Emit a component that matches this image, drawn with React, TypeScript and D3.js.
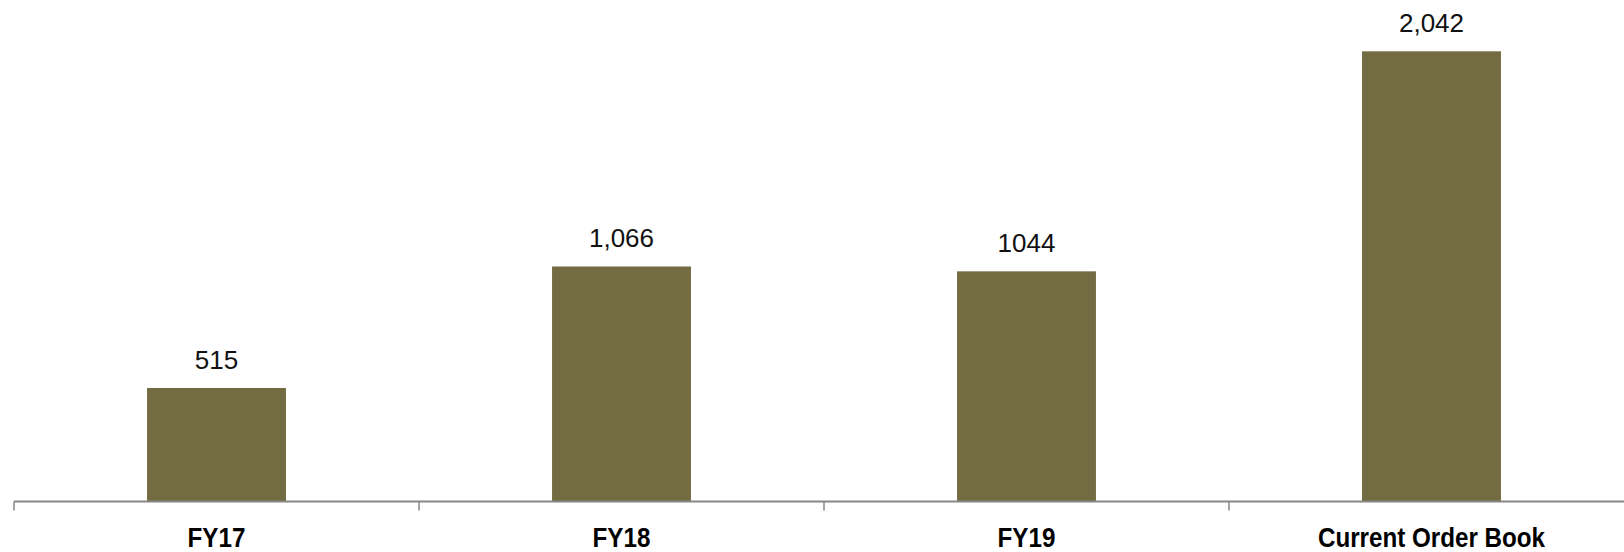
import React from "react";
import * as d3 from "d3";

const categories: string[] = ["FY17", "FY18", "FY19", "Current Order Book"];
const values: number[] = [515, 1066, 1044, 2042];
const valueLabels: string[] = ["515", "1,066", "1044", "2,042"];

const W = 1624;
const H = 552;

export default function App() {
  const x = d3.scaleBand<string>().domain(categories).range([14, 1634]).padding(0);
  const y = d3.scaleLinear().domain([0, 2200]).range([501.5, 16.5]);
  const barFrac = 0.343;
  const bw = x.bandwidth() * barFrac;
  const tickPositions = categories.map((c) => x(c) as number);

  return (
    <svg
      width={W}
      height={H}
      style={{ position: "absolute", left: 0, top: 0, background: "#fff" }}
    >
      {categories.map((c, i) => {
        const cx = (x(c) as number) + x.bandwidth() / 2;
        return (
          <g key={c}>
            <rect
              x={cx - bw / 2}
              y={y(values[i])}
              width={bw}
              height={y(0) - y(values[i])}
              fill="#736B42"
            />
            <text
              x={cx}
              y={y(values[i]) - 19}
              textAnchor="middle"
              fontFamily="Liberation Sans, Arial, sans-serif"
              fontSize={26}
              fill="#111"
            >
              {valueLabels[i]}
            </text>
            <text
              transform={`translate(${cx},547) scale(0.88,1)`}
              textAnchor="middle"
              fontFamily="Liberation Sans, Arial, sans-serif"
              fontWeight="bold"
              fontSize={27.5}
              fill="#000"
            >
              {c}
            </text>
          </g>
        );
      })}
      <line x1={14} x2={W} y1={y(0)} y2={y(0)} stroke="#868686" strokeWidth={2} />
      {tickPositions.map((t, i) => (
        <line key={i} x1={t} x2={t} y1={y(0)} y2={y(0) + 9} stroke="#868686" strokeWidth={1.5} />
      ))}
    </svg>
  );
}
